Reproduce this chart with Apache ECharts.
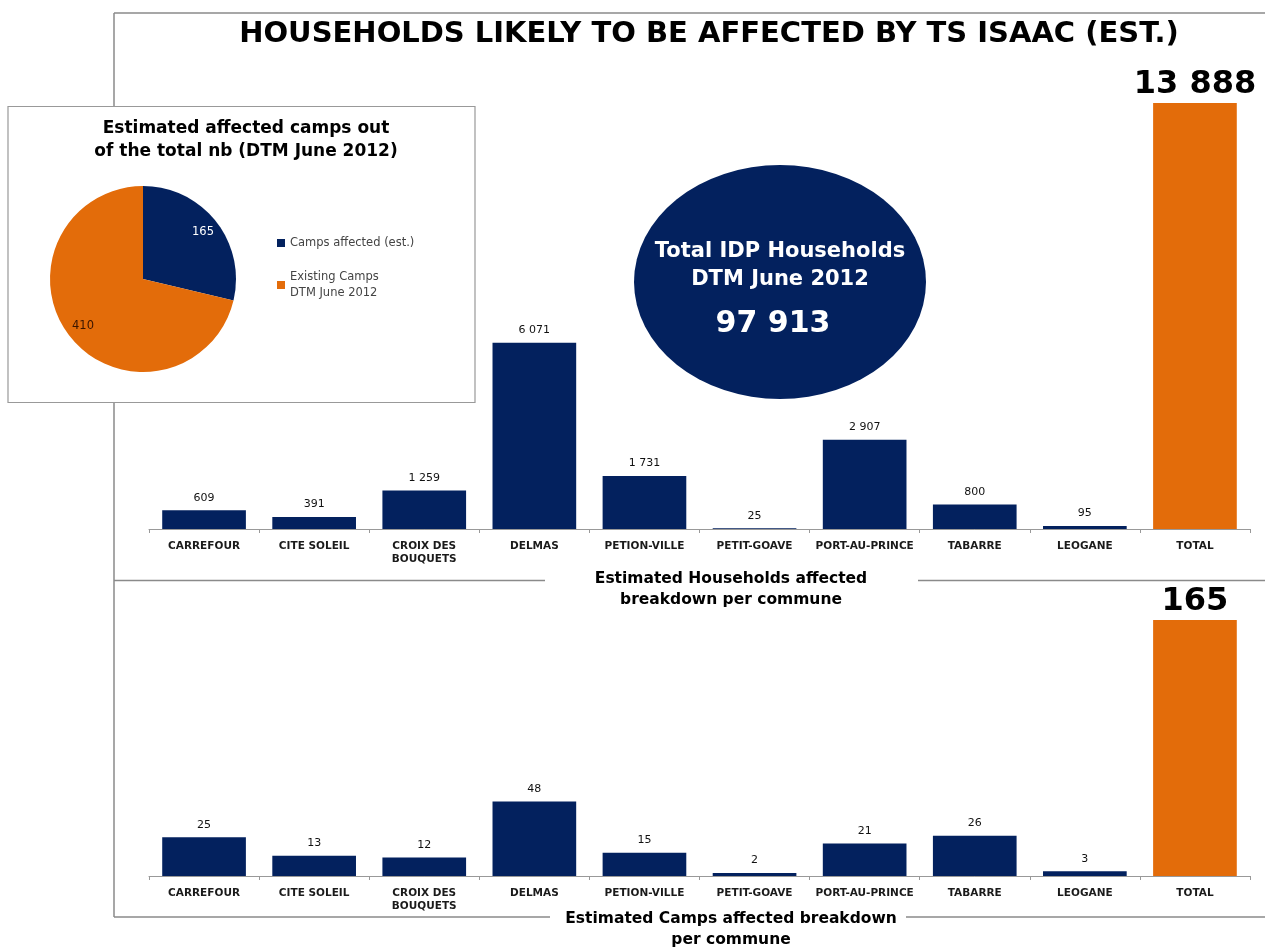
<!DOCTYPE html>
<html>
<head>
<meta charset="utf-8">
<title>Households likely to be affected by TS Isaac</title>
<script src="https://cdn.jsdelivr.net/npm/echarts@6/dist/echarts.min.js"></script>
<style>
  html, body { margin: 0; padding: 0; background: #fff; }
  #chart { width: 1265px; height: 948px; }
</style>
</head>
<body>
<div id="chart"></div>
<script>
// data
const communes = ['CARREFOUR', 'CITE SOLEIL', 'CROIX DES\nBOUQUETS', 'DELMAS', 'PETION-VILLE',
  'PETIT-GOAVE', 'PORT-AU-PRINCE', 'TABARRE', 'LEOGANE', 'TOTAL'];
const households = [609, 391, 1259, 6071, 1731, 25, 2907, 800, 95, 13888];
const camps = [25, 13, 12, 48, 15, 2, 21, 26, 3, 165];
const pieNames = ['Camps affected (est.)', 'Existing Camps\nDTM June 2012'];
const pieValues = [165, 410];
const totalIdpHouseholds = 97913;

const NAVY = '#03215E';
const ORANGE = '#E36C0A';
const FRAME = '#8a8a8a';
const VERDANA = '"DejaVu Sans", Verdana, sans-serif';

const fmt = v => String(v).replace(/\B(?=(\d{3})+(?!\d))/g, ' ');

const barData = values => values.map((v, i) => {
  const isTotal = i === values.length - 1;
  return {
    value: v,
    itemStyle: { color: isTotal ? ORANGE : NAVY },
    label: isTotal ? {
      fontFamily: VERDANA, fontSize: 32, fontWeight: 'bold', color: '#000', distance: 2
    } : {}
  };
});

const xAxisBase = gridIndex => ({
  type: 'category',
  gridIndex: gridIndex,
  data: communes,
  axisLine: { lineStyle: { color: '#999', width: 1 } },
  axisTick: { show: true, length: 4, lineStyle: { color: '#999' } },
  axisLabel: {
    interval: 0, margin: 11, color: '#1a1a1a',
    fontFamily: VERDANA, fontWeight: 'bold', fontSize: 10.5, lineHeight: 13
  }
});

const yAxisBase = (gridIndex, max) => ({
  type: 'value', gridIndex: gridIndex, min: 0, max: max, show: false
});

const barLabel = {
  show: true, position: 'top', distance: 7,
  fontFamily: VERDANA, fontSize: 11, color: '#111',
  formatter: p => fmt(p.value)
};

const chart = echarts.init(document.getElementById('chart'));

const option = {
  animation: false,
  backgroundColor: '#fff',
  title: [
    {
      text: 'HOUSEHOLDS LIKELY TO BE AFFECTED BY TS ISAAC (EST.)',
      left: 704, top: 15, textAlign: 'center',
      textStyle: { fontFamily: VERDANA, fontWeight: 'bold', fontSize: 29, color: '#000' }
    },
    {
      text: 'Estimated Households affected\nbreakdown per commune',
      left: 726, top: 563, textAlign: 'center',
      textStyle: { fontFamily: VERDANA, fontWeight: 'bold', fontSize: 15.5, lineHeight: 21, color: '#000' }
    },
    {
      text: 'Estimated Camps affected breakdown\nper commune',
      left: 726, top: 903, textAlign: 'center',
      textStyle: { fontFamily: VERDANA, fontWeight: 'bold', fontSize: 15.5, lineHeight: 21, color: '#000' }
    },
    {
      text: 'Estimated affected camps out\nof the total nb (DTM June 2012)',
      left: 241, top: 112, textAlign: 'center', z: 20,
      textStyle: { fontFamily: VERDANA, fontWeight: 'bold', fontSize: 17, lineHeight: 23, color: '#000' }
    }
  ],
  legend: {
    orient: 'vertical',
    left: 272, top: 230, z: 20,
    icon: 'rect', itemWidth: 8, itemHeight: 8, itemGap: 18,
    data: pieNames,
    textStyle: { fontFamily: VERDANA, fontSize: 11.5, color: '#444', lineHeight: 16 }
  },
  grid: [
    { left: 149, right: 15, top: 103, height: 426 },
    { left: 149, right: 15, top: 620, height: 256 }
  ],
  xAxis: [xAxisBase(0), xAxisBase(1)],
  yAxis: [yAxisBase(0, 13888), yAxisBase(1, 165)],
  graphic: [
    // frame lines
    { type: 'line', z: 1, shape: { x1: 114, y1: 13, x2: 1265, y2: 13 }, style: { stroke: FRAME, lineWidth: 1.5 } },
    { type: 'line', z: 1, shape: { x1: 114, y1: 13, x2: 114, y2: 917 }, style: { stroke: FRAME, lineWidth: 1.5 } },
    { type: 'line', z: 1, shape: { x1: 114, y1: 580.5, x2: 545, y2: 580.5 }, style: { stroke: FRAME, lineWidth: 1.5 } },
    { type: 'line', z: 1, shape: { x1: 918, y1: 580.5, x2: 1265, y2: 580.5 }, style: { stroke: FRAME, lineWidth: 1.5 } },
    { type: 'line', z: 1, shape: { x1: 114, y1: 917, x2: 550, y2: 917 }, style: { stroke: FRAME, lineWidth: 1.5 } },
    { type: 'line', z: 1, shape: { x1: 906, y1: 917, x2: 1265, y2: 917 }, style: { stroke: FRAME, lineWidth: 1.5 } },
    // pie inset box
    {
      type: 'rect', z: 10,
      shape: { x: 8, y: 106.5, width: 467, height: 296 },
      style: { fill: '#fff', stroke: '#999', lineWidth: 1.2 }
    },
    // big ellipse with total IDP households
    {
      type: 'group', z: 5,
      children: [
        {
          type: 'circle', x: 780, y: 282, scaleX: 146 / 117,
          shape: { cx: 0, cy: 0, r: 117 },
          style: { fill: NAVY }
        },
        {
          type: 'text', x: 780, y: 238,
          style: {
            text: 'Total IDP Households\nDTM June 2012', fill: '#fff',
            font: 'bold 21px "DejaVu Sans", Verdana, sans-serif',
            lineHeight: 28, align: 'center', verticalAlign: 'top'
          }
        },
        {
          type: 'text', x: 773, y: 309,
          style: {
            text: fmt(totalIdpHouseholds), fill: '#fff',
            font: 'bold 30px "DejaVu Sans", Verdana, sans-serif',
            align: 'center', verticalAlign: 'top'
          }
        }
      ]
    }
  ],
  series: [
    {
      type: 'bar', xAxisIndex: 0, yAxisIndex: 0,
      barCategoryGap: '24%',
      data: barData(households),
      label: barLabel
    },
    {
      type: 'bar', xAxisIndex: 1, yAxisIndex: 1,
      barCategoryGap: '24%',
      data: barData(camps),
      label: barLabel
    },
    {
      type: 'pie', z: 20,
      center: [143, 279], radius: [0, 93],
      startAngle: 90, clockwise: true,
      color: [NAVY, ORANGE],
      label: { show: false },
      labelLine: { show: false },
      data: pieNames.map((n, i) => ({ name: n, value: pieValues[i] }))
    },
    {
      // transparent twin so the value labels sit further out in each slice
      type: 'pie', z: 21, silent: true,
      center: [143, 279], radius: [0, 147],
      startAngle: 90, clockwise: true,
      itemStyle: { color: 'rgba(0,0,0,0)' },
      emphasis: { disabled: true },
      labelLine: { show: false },
      label: {
        show: true, position: 'inside', fontFamily: VERDANA, fontSize: 11.5,
        formatter: p => p.value
      },
      data: pieNames.map((n, i) => ({
        name: n, value: pieValues[i],
        label: { color: i === 0 ? '#fff' : '#3a1500' }
      }))
    }
  ]
};

chart.setOption(option);
window.addEventListener('resize', chart.resize);
</script>
</body>
</html>
